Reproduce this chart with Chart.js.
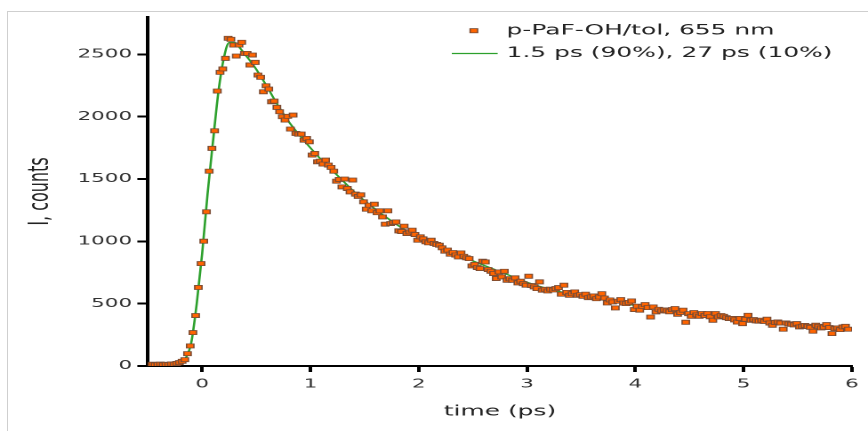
<!DOCTYPE html>
<html>
<head>
<meta charset="utf-8">
<script src="https://cdn.jsdelivr.net/npm/chart.js@4/dist/chart.umd.min.js"></script>
<style>
  html, body { margin: 0; padding: 0; background: #fff; overflow: hidden; }
  #wrap { position: relative; width: 868px; height: 431px; }
  #frame { position: absolute; left: 7px; top: 11px; right: -2px; bottom: -2px;
           border-top: 1px solid #cfcfcf; border-left: 1px solid #cfcfcf; }
  /* the original figure is stretched sideways, so the canvas is too */
  #chart { position: absolute; left: 0; top: 0; transform: scaleX(1.7787); transform-origin: 0 0; }
</style>
</head>
<body>
<div id="wrap">
  <div id="frame"></div>
  <canvas id="chart" width="488" height="431"></canvas>
</div>
<script>
/* ============================================================
   Transient trace p-PaF-OH/tol @ 655 nm with bi-exponential fit
   ============================================================ */

// measured points: delay (ps) and counts
const times = [
  -0.485, -0.46, -0.435, -0.41, -0.385, -0.36, -0.335, -0.31, -0.285, -0.26,
  -0.235, -0.21, -0.185, -0.16, -0.135, -0.11, -0.085, -0.06, -0.035, -0.01,
  0.015, 0.04, 0.065, 0.09, 0.115, 0.14, 0.165, 0.19, 0.215, 0.24,
  0.265, 0.29, 0.315, 0.34, 0.365, 0.39, 0.415, 0.44, 0.465, 0.49,
  0.515, 0.54, 0.565, 0.59, 0.615, 0.64, 0.665, 0.69, 0.715, 0.74,
  0.765, 0.79, 0.815, 0.84, 0.865, 0.89, 0.915, 0.94, 0.965, 0.99,
  1.015, 1.04, 1.065, 1.09, 1.115, 1.14, 1.165, 1.19, 1.215, 1.24,
  1.265, 1.29, 1.315, 1.34, 1.365, 1.39, 1.415, 1.44, 1.465, 1.49,
  1.515, 1.54, 1.565, 1.59, 1.615, 1.64, 1.665, 1.69, 1.715, 1.74,
  1.765, 1.79, 1.815, 1.84, 1.865, 1.89, 1.915, 1.94, 1.965, 1.99,
  2.015, 2.04, 2.065, 2.09, 2.115, 2.14, 2.165, 2.19, 2.215, 2.24,
  2.265, 2.29, 2.315, 2.34, 2.365, 2.39, 2.415, 2.44, 2.465, 2.49,
  2.515, 2.54, 2.565, 2.59, 2.615, 2.64, 2.665, 2.69, 2.715, 2.74,
  2.765, 2.79, 2.815, 2.84, 2.865, 2.89, 2.915, 2.94, 2.965, 2.99,
  3.015, 3.04, 3.065, 3.09, 3.115, 3.14, 3.165, 3.19, 3.215, 3.24,
  3.265, 3.29, 3.315, 3.34, 3.365, 3.39, 3.415, 3.44, 3.465, 3.49,
  3.515, 3.54, 3.565, 3.59, 3.615, 3.64, 3.665, 3.69, 3.715, 3.74,
  3.765, 3.79, 3.815, 3.84, 3.865, 3.89, 3.915, 3.94, 3.965, 3.99,
  4.015, 4.04, 4.065, 4.09, 4.115, 4.14, 4.165, 4.19, 4.215, 4.24,
  4.265, 4.29, 4.315, 4.34, 4.365, 4.39, 4.415, 4.44, 4.465, 4.49,
  4.515, 4.54, 4.565, 4.59, 4.615, 4.64, 4.665, 4.69, 4.715, 4.74,
  4.765, 4.79, 4.815, 4.84, 4.865, 4.89, 4.915, 4.94, 4.965, 4.99,
  5.015, 5.04, 5.065, 5.09, 5.115, 5.14, 5.165, 5.19, 5.215, 5.24,
  5.265, 5.29, 5.315, 5.34, 5.365, 5.39, 5.415, 5.44, 5.465, 5.49,
  5.515, 5.54, 5.565, 5.59, 5.615, 5.64, 5.665, 5.69, 5.715, 5.74,
  5.765, 5.79, 5.815, 5.84, 5.865, 5.89, 5.915, 5.94, 5.965
];
const counts = [
  10, 14, 8, 12, 15, 9, 13, 11, 16, 14,
  20, 27, 38, 51, 99, 161, 268, 405, 630, 822,
  1001, 1237, 1563, 1746, 1887, 2206, 2356, 2383, 2468, 2629,
  2621, 2575, 2487, 2575, 2597, 2508, 2508, 2415, 2495, 2436,
  2334, 2316, 2200, 2248, 2222, 2120, 2125, 2075, 2040, 2000,
  1973, 2003, 1901, 2013, 1866, 1860, 1861, 1812, 1826, 1799,
  1692, 1705, 1638, 1643, 1620, 1652, 1612, 1593, 1563, 1483,
  1497, 1437, 1500, 1424, 1397, 1492, 1379, 1360, 1373, 1317,
  1258, 1290, 1245, 1298, 1230, 1245, 1196, 1138, 1245, 1143,
  1151, 1156, 1084, 1079, 1122, 1063, 1076, 1090, 1055, 1009,
  1036, 1020, 996, 988, 1009, 983, 975, 969, 948, 921,
  930, 897, 910, 890, 875, 907, 880, 868, 862, 803,
  815, 790, 782, 841, 835, 774, 760, 742, 702, 755,
  715, 760, 688, 700, 688, 707, 667, 680, 660, 648,
  720, 645, 634, 621, 675, 608, 615, 602, 616, 610,
  621, 629, 576, 648, 590, 567, 580, 594, 567, 572,
  559, 576, 548, 554, 562, 540, 554, 580, 545, 506,
  530, 514, 466, 520, 533, 505, 501, 510, 522, 453,
  480, 448, 478, 493, 469, 393, 474, 434, 455, 442,
  450, 442, 435, 453, 461, 415, 430, 448, 351, 420,
  399, 429, 410, 399, 421, 405, 421, 395, 367, 421,
  394, 405, 399, 388, 381, 381, 370, 353, 381, 340,
  375, 407, 367, 372, 362, 360, 367, 358, 375, 345,
  327, 350, 353, 345, 295, 345, 338, 335, 330, 340,
  313, 318, 325, 318, 310, 279, 327, 318, 305, 312,
  332, 308, 260, 300, 305, 292, 313, 318, 295
];

// fitted curve
const fitTimes = [
  -0.5, -0.25, -0.2, -0.15, -0.1, -0.05,
  0, 0.05, 0.1, 0.15, 0.2, 0.25, 0.3, 0.35, 0.4, 0.45, 0.5,
  0.6, 0.7, 0.8, 0.9, 1, 1.1, 1.2, 1.3, 1.4, 1.5, 1.6, 1.7, 1.8, 1.9, 2,
  2.2, 2.4, 2.6, 2.8, 3, 3.2, 3.4, 3.6, 3.8, 4,
  4.25, 4.5, 4.75, 5, 5.25, 5.5, 5.75, 6
];
const fitCounts = [
  0, 3, 20, 65, 190, 500,
  900, 1380, 1800, 2200, 2470, 2595, 2595, 2550, 2495, 2440, 2380,
  2240, 2090, 1960, 1850, 1750, 1655, 1570, 1485, 1400, 1325, 1258, 1193, 1133, 1078, 1028,
  950, 878, 808, 740, 672, 618, 578, 546, 514, 485,
  452, 424, 398, 375, 354, 334, 316, 300
];

const xTicks = [0, 1, 2, 3, 4, 5, 6];
const yTicks = [0, 500, 1000, 1500, 2000, 2500];
const seriesLabels = ['p-PaF-OH/tol, 655 nm', '1.5 ps (90%), 27 ps (10%)'];
const xTitle = 'time (ps)';
const yTitle = 'I, counts';

const ORANGE = '#ff6400';
const MARKER_EDGE = '#7a4b33';
const GREEN = '#2ca02c';
const FONT = '"DejaVu Sans", Verdana, sans-serif';

Chart.defaults.font.family = FONT;

// small legend in the upper right corner, two rows
const cornerLegend = {
  id: 'cornerLegend',
  afterDatasetsDraw(chart) {
    const ctx = chart.ctx;
    const ds = chart.data.datasets;
    ctx.save();
    // row 1: marker
    ctx.fillStyle = ds[0].backgroundColor;
    ctx.strokeStyle = ds[0].borderColor;
    ctx.lineWidth = 0.8;
    ctx.fillRect(264.3, 28.6, 4.2, 4.2);
    ctx.strokeRect(264.3, 28.6, 4.2, 4.2);
    // row 2: line
    ctx.strokeStyle = ds[1].borderColor;
    ctx.lineWidth = 1.3;
    ctx.beginPath();
    ctx.moveTo(254, 53.5);
    ctx.lineTo(279.8, 53.5);
    ctx.stroke();
    // text
    ctx.fillStyle = '#222';
    ctx.font = '14px ' + FONT;
    ctx.textBaseline = 'middle';
    ctx.textAlign = 'left';
    ctx.fillText(ds[0].label, 284.8, 31);
    ctx.fillText(ds[1].label, 284.8, 53.5);
    ctx.restore();
  }
};

const axisGrid = (len) => ({
  drawOnChartArea: false,
  drawTicks: true,
  tickLength: len,
  tickColor: '#000',
  tickWidth: 2
});

new Chart(document.getElementById('chart'), {
  type: 'scatter',
  data: {
    datasets: [
      {
        label: seriesLabels[0],
        data: times.map((t, i) => ({ x: t, y: counts[i] })),
        pointStyle: 'rect',
        pointRadius: 2.9,
        backgroundColor: ORANGE,
        borderColor: MARKER_EDGE,
        borderWidth: 0.8
      },
      {
        label: seriesLabels[1],
        data: fitTimes.map((t, i) => ({ x: t, y: fitCounts[i] })),
        showLine: true,
        pointRadius: 0,
        borderColor: GREEN,
        backgroundColor: GREEN,
        borderWidth: 1.3,
        cubicInterpolationMode: 'monotone'
      }
    ]
  },
  options: {
    responsive: false,
    animation: false,
    devicePixelRatio: 2,
    events: [],
    layout: { padding: { left: 0, top: 17, right: 9, bottom: 0 } },
    plugins: {
      legend: { display: false },
      tooltip: { enabled: false }
    },
    scales: {
      x: {
        type: 'linear',
        min: -0.5,
        max: 6,
        afterBuildTicks: (s) => { s.ticks = xTicks.map(v => ({ value: v })); },
        afterFit: (s) => { s.height = 65; },
        ticks: {
          color: '#333',
          font: { size: 12 },
          padding: 5,
          maxRotation: 0,
          autoSkip: false,
          callback: (v) => String(v)
        },
        grid: axisGrid(6),
        border: { display: true, color: '#000', width: 2 },
        title: {
          display: true,
          text: xTitle,
          color: '#222',
          font: { size: 14 },
          padding: { top: 0, bottom: 10.6 }
        }
      },
      y: {
        type: 'linear',
        min: 0,
        max: 2800,
        afterBuildTicks: (s) => { s.ticks = yTicks.map(v => ({ value: v })); },
        afterFit: (s) => { s.width = 83.2; },
        ticks: {
          color: '#333',
          font: { size: 12 },
          padding: 3,
          callback: (v) => String(v)
        },
        grid: axisGrid(6),
        border: { display: true, color: '#000', width: 2 },
        title: {
          display: true,
          text: yTitle,
          color: '#222',
          font: { size: 16 },
          padding: { top: 13, bottom: 0 }
        }
      }
    }
  },
  plugins: [cornerLegend]
});
</script>
</body>
</html>
